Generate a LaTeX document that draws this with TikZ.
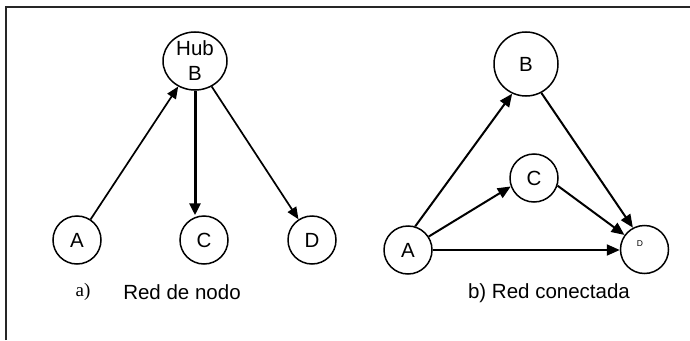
\documentclass[tikz,border=0pt]{standalone}
\usepackage{fontspec}
\setmainfont{Liberation Sans}
\newfontfamily\serifit{Liberation Serif}
\usetikzlibrary{arrows.meta,shapes.geometric}
\begin{document}
\begin{tikzpicture}[x=1pt,y=-1pt,
  every node/.style={font=\fontsize{20.5}{25}\selectfont},
  circ/.style={circle,draw,line width=1.5pt,minimum size=48pt,inner sep=0pt},
  hubst/.style={ellipse,draw,line width=1.5pt,minimum width=64pt,minimum height=58pt,inner sep=0pt,align=center},
  bigc/.style={circle,draw,line width=1.5pt,minimum size=64pt,inner sep=0pt},
  edge1/.style={line width=1.7pt,-{Triangle[length=12pt,width=10pt]}},
  edgeb/.style={line width=3pt,-{Triangle[length=12pt,width=11pt]}},
  edge2/.style={line width=2pt,-{Triangle[length=13pt,width=11pt]}},
  frame/.style={line width=2pt,draw=black!85}]
\useasboundingbox (0,0) rectangle (690,340);
\coordinate (fbl) at (5.5,340);
\coordinate (ftl) at (5.5,6.5);
\coordinate (ftr) at (690,6.5);
\draw[frame] (fbl) -- (ftl) -- (ftr);

% (a) hub network
\node[hubst] (hub) at (195,61) {Hub\\B};
\node[circ] (a1) at (77,240) {A};
\node[circ] (c1) at (204,240) {C};
\node[circ] (d1) at (312,240) {D};
\draw[edge1] (a1) -- (hub);
\draw[edgeb] (hub.south) -- (hub.south |- c1.north);
\draw[edge1] (hub) -- (d1);
\node[font=\serifit\fontsize{19}{22}\selectfont] (la) at (83,292) {a)};
\node (lb) at (182,292) {Red de nodo};

% (b) connected network
\node[bigc] (b2) at (526,64) {B};
\node[circ] (c2) at (534,178) {C};
\node[circ] (a2) at (408,250) {A};
\node[circ] (d2) at (644.5,249.5) {};
\node[font=\fontsize{8.5}{9}\selectfont,inner sep=0pt] (d2t) at (640,244) {D};
\draw[edge2] (a2.73) -- (b2.245);
\draw[edge2] (a2.33) -- (c2.200);
\draw[edge2] (a2.east) -- (a2.east -| d2.west);
\draw[edge2] (c2.-18) -- (d2.144);
\draw[edge2] (b2.-62) -- (d2.118);
\node (lc) at (549,293) {b) Red conectada};
\end{tikzpicture}
\end{document}
